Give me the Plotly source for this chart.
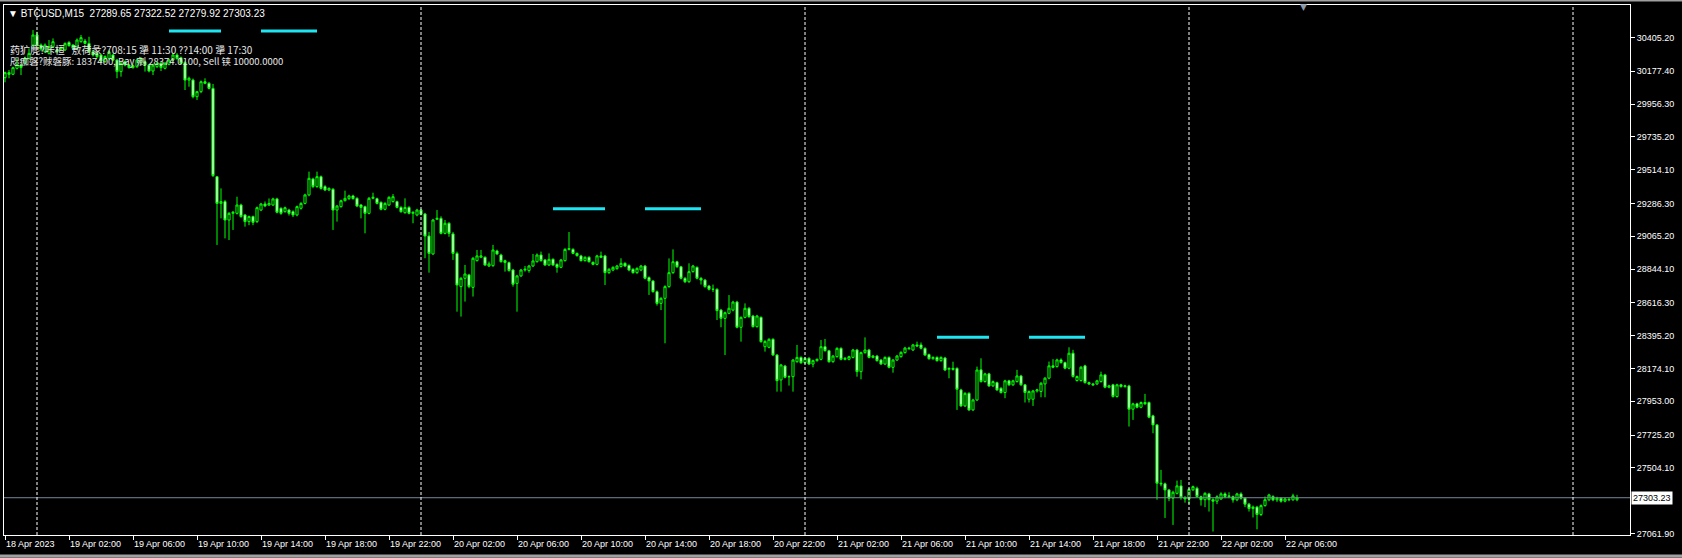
import pandas as pd
import plotly.graph_objects as go

# BTCUSD M15 bars, first bar at 18 Apr 2023 22:00
start_time = "2023-04-18 22:00"

opens = [
    30134, 30168, 30157, 30197, 30219, 30231, 30264, 30354, 30422, 30354,
    30309, 30298, 30343, 30321, 30327, 30321, 30372, 30354, 30332, 30377,
    30381, 30365, 30309, 30298, 30287, 30242, 30264, 30287, 30253, 30175,
    30242, 30219, 30202, 30208, 30237, 30242, 30219, 30179, 30208, 30231,
    30197, 30224, 30253, 30287, 30269, 30237, 30118, 30118, 30006, 30040,
    30107, 30096, 30062, 29467, 29287, 29299, 29175, 29220, 29220, 29276,
    29209, 29164, 29198, 29164, 29242, 29283, 29276, 29276, 29317, 29254,
    29231, 29242, 29231, 29209, 29254, 29287, 29344, 29451, 29400, 29467,
    29400, 29377, 29382, 29242, 29265, 29305, 29319, 29337, 29321, 29276,
    29265, 29220, 29321, 29319, 29294, 29247, 29276, 29299, 29299, 29260,
    29224, 29260, 29220, 29209, 29242, 29216, 29067, 28946, 29180, 29186,
    29085, 29153, 29081, 28950, 28726, 28782, 28805, 28721, 28901, 28924,
    28924, 28865, 28867, 28966, 28939, 28901, 28888, 28838, 28748, 28798,
    28838, 28834, 28865, 28894, 28939, 28906, 28872, 28910, 28876, 28856,
    28901, 28977, 28977, 28950, 28933, 28901, 28924, 28890, 28876, 28933,
    28933, 28820, 28838, 28847, 28861, 28883, 28869, 28843, 28820, 28838,
    28865, 28787, 28764, 28692, 28613, 28647, 28726, 28820, 28894, 28860,
    28782, 28759, 28827, 28856, 28782, 28770, 28730, 28708, 28708, 28568,
    28512, 28546, 28568, 28622, 28452, 28519, 28580, 28528, 28456, 28519,
    28321, 28317, 28371, 28265, 28097, 28191, 28119, 28119, 28220, 28249,
    28213, 28243, 28204, 28227, 28236, 28321, 28294, 28220, 28254, 28310,
    28236, 28236, 28249, 28299, 28153, 28281, 28299, 28249, 28258, 28231,
    28204, 28249, 28182, 28231, 28254, 28281, 28312, 28299, 28333, 28333,
    28310, 28268, 28240, 28249, 28227, 28245, 28169, 28175, 28175, 28030,
    27922, 28007, 27895, 27962, 28165, 28086, 28138, 28057, 28079, 28041,
    28012, 28091, 28064, 28086, 28124, 28064, 27967, 27967, 28023, 28019,
    28070, 28109, 28192, 28187, 28232, 28214, 28176, 28277, 28093, 28093,
    28192, 28079, 28070, 28070, 28086, 28131, 28048, 28064, 27985, 28064,
    28052, 28057, 27900, 27936, 27913, 27945, 27945, 27855, 27794, 27401,
    27397, 27356, 27300, 27333, 27383, 27305, 27295, 27356, 27367, 27311,
    27290, 27329, 27290, 27280, 27295, 27329, 27311, 27311, 27289, 27329,
    27300, 27260, 27230, 27240, 27190, 27250, 27289, 27311, 27289, 27300,
    27280, 27293, 27289, 27289.65,
]

highs = [
    30175, 30186, 30208, 30264, 30224, 30276, 30332, 30455, 30444, 30365,
    30365, 30388, 30399, 30330, 30345, 30372, 30380, 30360, 30399, 30422,
    30395, 30410, 30315, 30305, 30295, 30285, 30318, 30295, 30260, 30240,
    30250, 30225, 30222, 30262, 30272, 30250, 30225, 30228, 30240, 30240,
    30240, 30262, 30298, 30300, 30276, 30245, 30141, 30128, 30045, 30115,
    30130, 30105, 30092, 29470, 29388, 29310, 29228, 29235, 29332, 29285,
    29215, 29205, 29205, 29265, 29290, 29300, 29320, 29325, 29325, 29260,
    29265, 29250, 29240, 29272, 29295, 29352, 29501, 29460, 29501, 29475,
    29410, 29395, 29390, 29276, 29312, 29373, 29345, 29345, 29328, 29283,
    29272, 29330, 29359, 29326, 29300, 29295, 29335, 29350, 29305, 29268,
    29321, 29268, 29232, 29250, 29250, 29222, 29094, 29182, 29242, 29200,
    29175, 29160, 29094, 28962, 28790, 28872, 28812, 28925, 28973, 28973,
    28930, 28895, 29007, 28975, 28948, 28908, 28895, 28845, 28805, 28845,
    28865, 28872, 28946, 28950, 28962, 28912, 28950, 28917, 28883, 28912,
    28985, 29094, 28985, 28956, 28940, 28930, 28930, 28895, 28940, 28962,
    28940, 28850, 28863, 28872, 28917, 28890, 28876, 28850, 28856, 28872,
    28872, 28795, 28770, 28700, 28655, 28735, 28916, 28977, 28900, 28866,
    28790, 28883, 28872, 28862, 28790, 28777, 28737, 28740, 28715, 28575,
    28558, 28669, 28630, 28630, 28525, 28613, 28588, 28535, 28535, 28525,
    28365, 28378, 28378, 28272, 28205, 28198, 28128, 28238, 28333, 28256,
    28250, 28250, 28234, 28242, 28366, 28373, 28300, 28265, 28317, 28317,
    28250, 28260, 28306, 28306, 28288, 28384, 28306, 28265, 28265, 28238,
    28256, 28256, 28238, 28265, 28290, 28320, 28320, 28340, 28355, 28350,
    28317, 28275, 28256, 28256, 28256, 28252, 28180, 28220, 28182, 28037,
    28014, 28014, 27970, 28187, 28243, 28145, 28145, 28093, 28086, 28048,
    28098, 28098, 28098, 28165, 28131, 28070, 28026, 28030, 28037, 28082,
    28116, 28221, 28237, 28240, 28243, 28221, 28317, 28300, 28127, 28190,
    28199, 28086, 28077, 28098, 28153, 28138, 28064, 28071, 28071, 28071,
    28064, 28064, 27943, 27943, 27952, 28003, 27952, 27862, 27800, 27491,
    27405, 27362, 27350, 27419, 27423, 27315, 27368, 27385, 27378, 27318,
    27340, 27336, 27300, 27320, 27340, 27340, 27340, 27318, 27336, 27340,
    27305, 27268, 27250, 27248, 27258, 27311, 27330, 27320, 27310, 27306,
    27303, 27300, 27330, 27322.52,
]

lows = [
    30103, 30130, 30152, 30190, 30152, 30224, 30258, 30340, 30343, 30315,
    30300, 30290, 30336, 30298, 30320, 30315, 30343, 30325, 30325, 30370,
    30358, 30300, 30276, 30265, 30237, 30235, 30255, 30245, 30130, 30141,
    30210, 30195, 30195, 30200, 30230, 30175, 30170, 30152, 30200, 30179,
    30190, 30218, 30246, 30255, 30224, 30051, 30073, 29995, 29984, 30030,
    30090, 30055, 29465, 29007, 29186, 29051, 29040, 29108, 29212, 29190,
    29130, 29140, 29140, 29155, 29235, 29262, 29270, 29270, 29220, 29210,
    29225, 29205, 29195, 29200, 29245, 29280, 29335, 29390, 29392, 29380,
    29370, 29370, 29108, 29164, 29258, 29300, 29310, 29312, 29262, 29186,
    29085, 29213, 29315, 29280, 29240, 29240, 29270, 29292, 29253, 29224,
    29218, 29213, 29153, 29200, 29205, 28917, 28820, 28940, 29175, 29078,
    29078, 29062, 28906, 28557, 28524, 28625, 28715, 28659, 28895, 28918,
    28865, 28858, 28860, 28940, 28888, 28827, 28827, 28726, 28557, 28792,
    28827, 28820, 28858, 28888, 28894, 28865, 28865, 28865, 28820, 28850,
    28895, 28970, 28944, 28928, 28895, 28895, 28888, 28870, 28870, 28918,
    28737, 28812, 28830, 28840, 28855, 28858, 28830, 28813, 28812, 28830,
    28775, 28670, 28685, 28598, 28568, 28344, 28718, 28812, 28852, 28775,
    28750, 28752, 28820, 28775, 28740, 28718, 28700, 28690, 28501, 28452,
    28265, 28540, 28560, 28445, 28355, 28512, 28516, 28450, 28450, 28348,
    28288, 28310, 28258, 28018, 28018, 28108, 28059, 28018, 28213, 28205,
    28205, 28198, 28182, 28220, 28229, 28288, 28213, 28213, 28247, 28229,
    28229, 28229, 28242, 28119, 28101, 28274, 28242, 28242, 28220, 28198,
    28198, 28175, 28146, 28225, 28247, 28275, 28300, 28292, 28320, 28303,
    28258, 28233, 28233, 28220, 28220, 28157, 28108, 28160, 27895, 27915,
    27915, 27888, 27888, 27955, 28079, 28079, 28050, 28050, 28023, 28005,
    27974, 28057, 28057, 28079, 28057, 27945, 27945, 27922, 28012, 27980,
    27980, 28102, 28176, 28180, 28207, 28169, 28169, 28113, 28086, 28086,
    28072, 28063, 28057, 28063, 28079, 28041, 28041, 27978, 27978, 28045,
    28045, 27783, 27828, 27906, 27906, 27929, 27839, 27738, 27290, 27380,
    27167, 27280, 27120, 27325, 27290, 27270, 27260, 27350, 27305, 27250,
    27240, 27210, 27075, 27260, 27288, 27300, 27300, 27270, 27280, 27290,
    27240, 27210, 27170, 27090, 27180, 27243, 27280, 27280, 27275, 27270,
    27272, 27280, 27283, 27279.92,
]

closes = [
    30168, 30157, 30202, 30224, 30202, 30264, 30298, 30422, 30354, 30327,
    30354, 30343, 30377, 30309, 30336, 30365, 30350, 30332, 30388, 30404,
    30365, 30309, 30287, 30276, 30246, 30276, 30309, 30253, 30175, 30231,
    30219, 30202, 30215, 30253, 30264, 30219, 30179, 30219, 30231, 30202,
    30231, 30253, 30287, 30264, 30231, 30118, 30130, 30006, 30040, 30107,
    30096, 30062, 29474, 29287, 29299, 29175, 29220, 29227, 29276, 29198,
    29164, 29198, 29159, 29258, 29283, 29270, 29287, 29317, 29227, 29220,
    29258, 29220, 29209, 29265, 29287, 29344, 29456, 29400, 29467, 29388,
    29377, 29388, 29242, 29269, 29305, 29321, 29337, 29319, 29269, 29260,
    29220, 29321, 29328, 29287, 29247, 29287, 29328, 29332, 29260, 29231,
    29260, 29220, 29227, 29242, 29213, 29067, 28950, 29175, 29186, 29085,
    29153, 29085, 28950, 28737, 28782, 28811, 28726, 28917, 28933, 28933,
    28872, 28879, 28973, 28946, 28894, 28888, 28834, 28742, 28798, 28838,
    28843, 28865, 28899, 28939, 28901, 28872, 28910, 28872, 28856, 28906,
    28977, 28982, 28950, 28935, 28901, 28924, 28894, 28876, 28933, 28924,
    28820, 28843, 28856, 28865, 28883, 28865, 28838, 28820, 28849, 28865,
    28782, 28764, 28692, 28613, 28647, 28726, 28820, 28894, 28860, 28782,
    28759, 28827, 28865, 28782, 28770, 28726, 28708, 28708, 28564, 28512,
    28550, 28580, 28622, 28452, 28519, 28580, 28523, 28456, 28528, 28355,
    28357, 28371, 28265, 28092, 28198, 28115, 28119, 28231, 28249, 28213,
    28243, 28204, 28227, 28236, 28321, 28294, 28220, 28258, 28310, 28236,
    28243, 28254, 28299, 28153, 28281, 28299, 28249, 28258, 28227, 28204,
    28249, 28182, 28231, 28258, 28283, 28312, 28308, 28333, 28326, 28310,
    28265, 28240, 28249, 28227, 28249, 28164, 28175, 28169, 28034, 27922,
    28007, 27895, 27962, 28164, 28086, 28138, 28057, 28086, 28030, 28012,
    28091, 28064, 28091, 28124, 28064, 28012, 28019, 28023, 28030, 28075,
    28109, 28192, 28183, 28232, 28214, 28176, 28277, 28120, 28120, 28183,
    28079, 28070, 28064, 28091, 28131, 28048, 28057, 27985, 28064, 28052,
    28057, 27900, 27936, 27913, 27945, 27936, 27846, 27794, 27401, 27397,
    27356, 27300, 27340, 27383, 27305, 27295, 27360, 27378, 27311, 27290,
    27333, 27290, 27280, 27310, 27329, 27311, 27315, 27289, 27329, 27300,
    27260, 27230, 27240, 27190, 27250, 27290, 27322, 27289, 27300, 27280,
    27295, 27290, 27316, 27303.23,
]

# right price scale labels as printed by the terminal
price_ticks = [30405.20, 30177.40, 29956.30, 29735.20, 29514.10, 29286.30,
               29065.20, 28844.10, 28616.30, 28395.20, 28174.10, 27953.00,
               27725.20, 27504.10, 27061.90]

time_labels = ["18 Apr 2023", "19 Apr 02:00", "19 Apr 06:00", "19 Apr 10:00",
               "19 Apr 14:00", "19 Apr 18:00", "19 Apr 22:00", "20 Apr 02:00",
               "20 Apr 06:00", "20 Apr 10:00", "20 Apr 14:00", "20 Apr 18:00",
               "20 Apr 22:00", "21 Apr 02:00", "21 Apr 06:00", "21 Apr 10:00",
               "21 Apr 14:00", "21 Apr 18:00", "21 Apr 22:00", "22 Apr 02:00",
               "22 Apr 06:00"]

day_breaks = ["2023-04-19", "2023-04-20", "2023-04-21", "2023-04-22", "2023-04-23"]

# session levels drawn by the indicator (08:15-11:30 and 14:00-17:30)
session_days = ["2023-04-19", "2023-04-20", "2023-04-21"]
session_levels = [30449, 29250, 28385]
session_windows = [("08:15", "11:30"), ("14:00", "17:30")]

info_line_1 = "药犷麂?咔桓   敖荷彖?708:15 犟 11:30 ??14:00 犟 17:30"
info_line_2 = "咫痂磐?赇磐豚: 1837400, Bay 剜 28374.0100, Sell 铗 10000.0000"

n = len(closes)
assert len(opens) == n and len(highs) == n and len(lows) == n

times = pd.date_range(start_time, periods=n, freq="15min")
bar = pd.Timedelta(minutes=15)

fig = go.Figure()

fig.add_trace(go.Candlestick(
    x=times, open=opens, high=highs, low=lows, close=closes,
    increasing=dict(line=dict(color="#00ff00", width=1), fillcolor="#000000"),
    decreasing=dict(line=dict(color="#00ff00", width=1), fillcolor="#ffffff"),
    whiskerwidth=0,
    hoverinfo="skip",
    showlegend=False,
))

# session level segments
seg_x, seg_y = [], []
for day, level in zip(session_days, session_levels):
    for t0, t1 in session_windows:
        seg_x += [pd.Timestamp(f"{day} {t0}"), pd.Timestamp(f"{day} {t1}"), None]
        seg_y += [level, level, None]
fig.add_trace(go.Scatter(
    x=seg_x, y=seg_y, mode="lines",
    line=dict(color="#1de6f2", width=3),
    hoverinfo="skip", showlegend=False,
))

# bid line
fig.add_hline(y=closes[-1], line=dict(color="#778899", width=1))

# day separators
for d in day_breaks:
    fig.add_shape(type="line", xref="x", yref="paper",
                  x0=d, x1=d, y0=0, y1=1,
                  line=dict(color="#ffffff", width=1, dash="3px,2px"))

font_ui = "Liberation Sans, Arial, sans-serif"

fig.add_annotation(
    xref="paper", yref="y", x=1, y=closes[-1], xanchor="left", xshift=1,
    text=f"{closes[-1]:.2f}", showarrow=False, bgcolor="#ffffff",
    borderpad=1, font=dict(color="#000000", size=9, family=font_ui),
)

header = f"▼ BTCUSD,M15  {opens[-1]:.2f} {highs[-1]:.2f} {lows[-1]:.2f} {closes[-1]:.2f}"
fig.add_annotation(
    xref="paper", yref="paper", x=0, y=1, xanchor="left", yanchor="middle",
    xshift=2, yshift=-8, text=header, showarrow=False,
    font=dict(color="#ffffff", size=10, family=font_ui),
)
for i, (line, size) in enumerate([(info_line_1, 10), (info_line_2, 9.5)]):
    fig.add_annotation(
        xref="paper", yref="paper", x=0, y=1, xanchor="left", yanchor="middle",
        xshift=4, yshift=-44 - 12 * i, text=line, showarrow=False,
        font=dict(color="#e6e6e6", size=size, family="Noto Sans CJK SC, " + font_ui),
    )

# chart shift marker
fig.add_annotation(
    xref="x", yref="paper", x=times[-1] + 1.5 * bar, y=1, yanchor="bottom",
    yshift=-9, text="▼", showarrow=False,
    font=dict(color="#8899aa", size=9, family="DejaVu Sans"),
)

# terminal window frame
frame = dict(color="#a0a0a0", width=2)
fig.add_shape(type="line", xref="paper", yref="paper", x0=-0.003, x1=1.033,
              y0=1.0085, y1=1.0085, line=frame)
fig.add_shape(type="rect", xref="paper", yref="paper", x0=-0.003, x1=1.033,
              y0=-0.043, y1=-0.037, line=dict(width=0), fillcolor="#a0a0a0")

fig.update_xaxes(
    range=[times[0] - 0.25 * bar, times[0] + 406.25 * bar],
    tickvals=list(times[::16][:len(time_labels)]), ticktext=time_labels,
    tickangle=0,
    ticks="outside", ticklen=4, tickcolor="#ffffff",
    ticklabelposition="outside right",
    tickfont=dict(color="#ffffff", size=9, family=font_ui),
    showgrid=False, zeroline=False, rangeslider=dict(visible=False),
    showline=True, linecolor="#ffffff", linewidth=1, mirror=True,
)
fig.update_yaxes(
    side="right", range=[27052, 30624],
    tickvals=price_ticks, ticktext=[f"{v:.2f}" for v in price_ticks],
    ticks="outside", ticklen=4, tickcolor="#ffffff",
    tickfont=dict(color="#ffffff", size=9, family=font_ui),
    showgrid=False, zeroline=False,
    showline=True, linecolor="#ffffff", linewidth=1, mirror=True,
)
fig.update_layout(
    width=1682, height=558,
    paper_bgcolor="#000000", plot_bgcolor="#000000",
    margin=dict(l=4, r=52, t=5, b=23),
    boxgap=0.25,
    showlegend=False,
)

fig.write_html("out.html", config={"displayModeBar": False},
               post_script="document.body.style.margin='0';")
